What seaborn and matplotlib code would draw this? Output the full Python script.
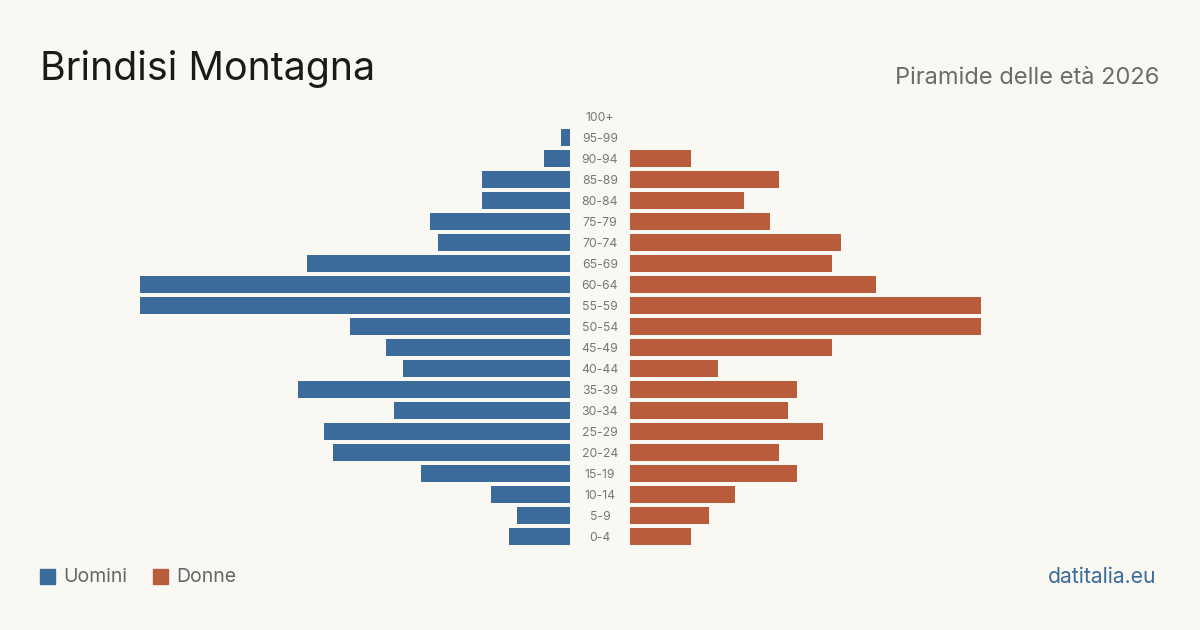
import pandas as pd
import matplotlib.pyplot as plt
import matplotlib.transforms as mtransforms
import seaborn as sns

# age classes, top to bottom
ages = ['100+', '95-99', '90-94', '85-89', '80-84', '75-79', '70-74', '65-69',
        '60-64', '55-59', '50-54', '45-49', '40-44', '35-39', '30-34', '25-29',
        '20-24', '15-19', '10-14', '5-9', '0-4']
uomini = [0, 1, 3, 10, 10, 16, 15, 30, 49, 49, 25, 21, 19, 31, 20, 28, 27, 17, 9, 6, 7]
donne = [0, 0, 7, 17, 13, 16, 24, 23, 28, 40, 40, 23, 10, 19, 18, 22, 17, 19, 12, 9, 7]

BG = '#f9f8f3'
BLUE = '#3b6b9a'
RED = '#b95c3c'

df = pd.DataFrame({'age': ages, 'Uomini': uomini, 'Donne': donne})

sns.set_theme(style='white')
plt.rcParams['font.family'] = ['Inter', 'DejaVu Sans']

fig = plt.figure(figsize=(12, 6.3), dpi=100, facecolor=BG)
W, H = 1200, 630
top, bot = 106, 547
xmax = 530 / 8.78

ax_l = fig.add_axes([40 / W, 1 - bot / H, 530 / W, (bot - top) / H])
ax_r = fig.add_axes([630 / W, 1 - bot / H, 530 / W, (bot - top) / H])

sns.barplot(data=df, x='Uomini', y='age', orient='h', color=BLUE, width=0.8,
            saturation=1, linewidth=0, ax=ax_l)
sns.barplot(data=df, x='Donne', y='age', orient='h', color=RED, width=0.8,
            saturation=1, linewidth=0, ax=ax_r)

ax_l.set_xlim(xmax, 0)
ax_r.set_xlim(0, xmax)
for ax in (ax_l, ax_r):
    ax.set_facecolor(BG)
    ax.set_ylim(len(ages) - 0.5, -0.5)
    ax.set_xticks([])
    ax.set_yticks([])
    ax.set_xlabel('')
    ax.set_ylabel('')
    for s in ax.spines.values():
        s.set_visible(False)

# age labels in the gap
tr = mtransforms.blended_transform_factory(fig.transFigure, ax_r.transData)
for i, a in enumerate(ages):
    ax_r.text(600 / W, i + 0.05, a, transform=tr, ha='center', va='center',
              fontsize=8.8, color='#777777', clip_on=False)

fig.text(40 / W, 1 - 80 / H, 'Brindisi Montagna', fontsize=28.3, color='#1a1a1a',
         ha='left', va='baseline')
fig.text(1159 / W, 1 - 84 / H, 'Piramide delle età 2026', fontsize=17,
         color='#6b6b6b', ha='right', va='baseline')

# legend
for x0, lab, col in [(40, 'Uomini', BLUE), (153, 'Donne', RED)]:
    fig.patches.append(plt.Rectangle((x0 / W, 1 - 584 / H), 15 / W, 15 / H,
                                     transform=fig.transFigure, color=col))
    fig.text((x0 + 23) / W, 1 - 577 / H, lab, fontsize=14, color='#666666',
             ha='left', va='center')

fig.text(1156 / W, 1 - 577 / H, 'datitalia.eu', fontsize=15.2, color=BLUE,
         ha='right', va='center')

fig.savefig('out.png', dpi=100, facecolor=BG)
